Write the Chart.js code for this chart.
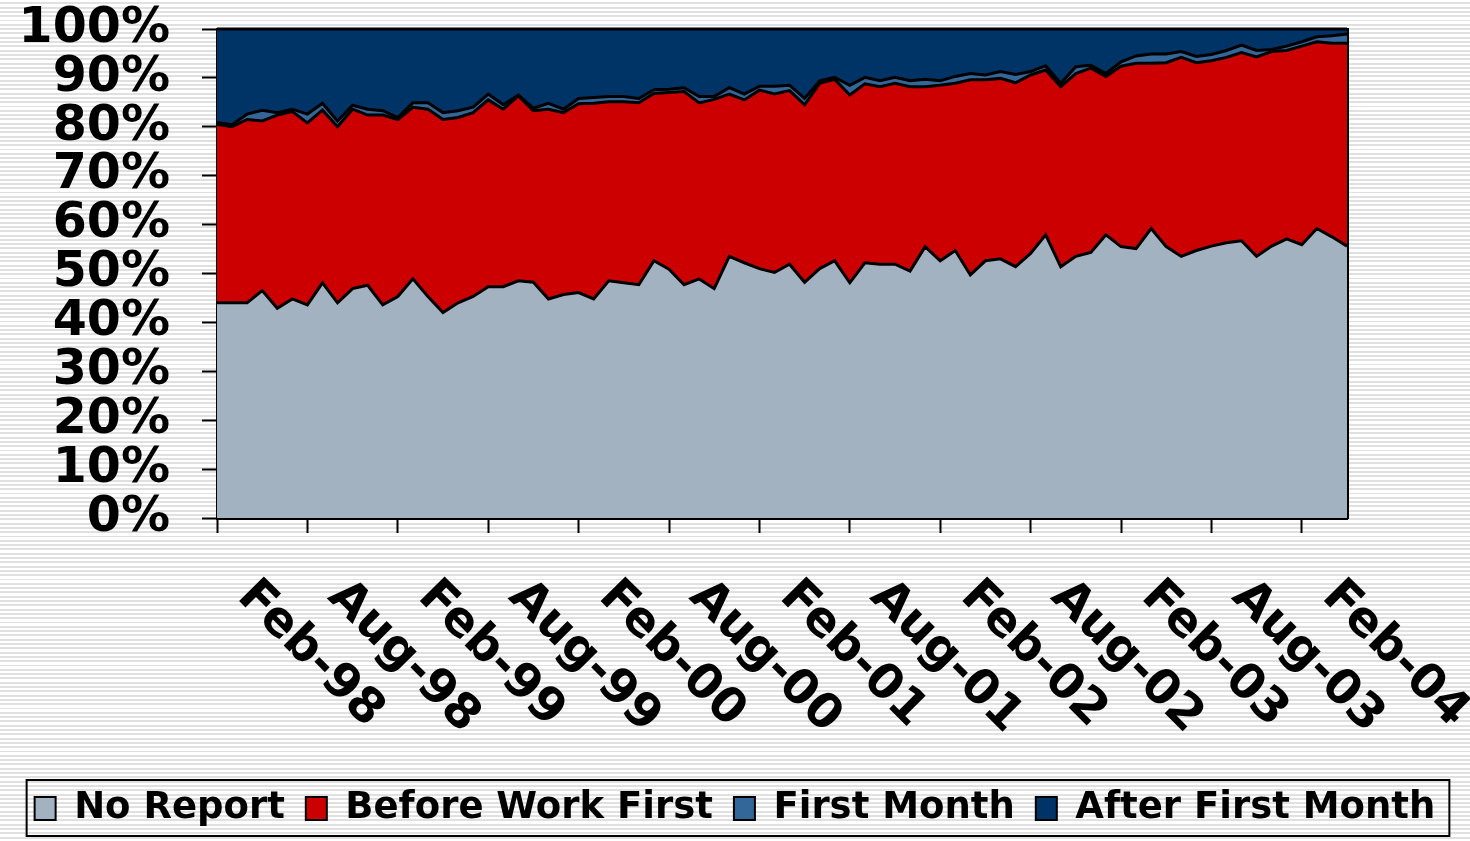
<!DOCTYPE html>
<html><head><meta charset="utf-8">
<script src="https://cdn.jsdelivr.net/npm/chart.js@4/dist/chart.umd.min.js"></script>
<style>
html,body{margin:0;padding:0;}
body{width:1470px;height:841px;overflow:hidden;background:repeating-linear-gradient(to bottom,#ffffff 0px,#ffffff 2.3px,#e0e0e0 2.3px,#e0e0e0 4.3px);}
#wrap{position:absolute;left:0;top:0;width:1470px;height:841px;}
</style></head><body>
<div id="wrap"><canvas id="c" width="1470" height="841"></canvas></div>
<script>
const categories = [
 "Feb-98","Mar-98","Apr-98","May-98","Jun-98","Jul-98","Aug-98","Sep-98","Oct-98","Nov-98","Dec-98",
 "Jan-99","Feb-99","Mar-99","Apr-99","May-99","Jun-99","Jul-99","Aug-99","Sep-99","Oct-99","Nov-99","Dec-99",
 "Jan-00","Feb-00","Mar-00","Apr-00","May-00","Jun-00","Jul-00","Aug-00","Sep-00","Oct-00","Nov-00","Dec-00",
 "Jan-01","Feb-01","Mar-01","Apr-01","May-01","Jun-01","Jul-01","Aug-01","Sep-01","Oct-01","Nov-01","Dec-01",
 "Jan-02","Feb-02","Mar-02","Apr-02","May-02","Jun-02","Jul-02","Aug-02","Sep-02","Oct-02","Nov-02","Dec-02",
 "Jan-03","Feb-03","Mar-03","Apr-03","May-03","Jun-03","Jul-03","Aug-03","Sep-03","Oct-03","Nov-03","Dec-03",
 "Jan-04","Feb-04","Mar-04","Apr-04","May-04"
];
const noReport = [
 44.0,44.0,44.0,46.5,42.9,44.8,43.6,48.1,44.0,46.9,
 47.6,43.6,45.3,48.9,45.3,42.0,44.0,45.3,47.3,47.3,
 48.5,48.2,44.8,45.7,46.1,44.8,48.5,48.1,47.7,52.6,
 50.9,47.7,48.9,46.9,53.5,52.2,51.0,50.2,51.9,48.2,
 51.0,52.6,48.1,52.2,51.9,51.9,50.5,55.5,52.6,54.7,
 49.7,52.6,53.0,51.4,54.1,57.9,51.4,53.5,54.3,57.9,
 55.5,55.1,59.2,55.5,53.5,54.7,55.6,56.3,56.7,53.5,
 55.6,57.1,55.9,59.2,57.5,55.6
];
const beforeWorkFirst = [
 36.5,36.0,37.5,34.7,39.5,38.3,37.2,35.3,36.0,36.7,
 34.8,38.8,36.2,35.1,38.3,39.5,37.9,37.6,38.2,36.3,
 37.8,35.1,38.8,37.2,38.6,40.0,36.6,37.0,37.2,34.2,
 36.1,39.5,36.0,38.7,33.2,33.3,36.5,36.5,35.5,36.3,
 37.9,37.1,38.4,36.6,36.3,37.0,37.7,32.7,35.9,34.2,
 39.9,37.0,36.9,37.6,36.5,33.7,36.8,37.4,37.7,32.4,
 36.9,37.9,33.8,37.6,40.7,38.4,37.9,37.9,38.5,40.8,
 39.8,38.5,40.6,38.2,39.6,41.5
];
const firstMonth = [
 0.4,0.4,1.1,2.2,0.5,0.5,1.8,1.4,1.2,0.8,
 1.2,0.9,0.4,0.9,1.3,1.4,1.4,1.1,1.2,0.9,
 0.2,0.5,1.2,0.7,1.1,1.2,1.1,1.1,0.9,0.8,
 0.7,0.8,1.3,0.6,1.3,1.2,0.8,1.6,1.1,1.3,
 0.5,0.4,2.0,1.3,1.2,1.2,1.2,1.5,0.9,1.4,
 1.3,1.0,1.4,1.7,0.7,0.9,0.7,1.4,0.6,0.6,
 0.9,1.5,1.9,1.8,1.2,1.3,1.3,1.4,1.5,1.3,
 0.4,0.9,0.9,1.0,1.5,1.9
];
const afterFirstMonth = [
 19.1,19.6,17.4,16.6,17.1,16.4,17.4,15.2,18.8,15.6,
 16.4,16.7,18.1,15.1,15.1,17.1,16.7,16.0,13.3,15.5,
 13.5,16.2,15.2,16.4,14.2,14.0,13.8,13.8,14.2,12.4,
 12.3,12.0,13.8,13.8,12.0,13.3,11.7,11.7,11.5,14.2,
 10.6,9.9,11.5,9.9,10.6,9.9,10.6,10.3,10.6,9.7,
 9.1,9.4,8.7,9.3,8.7,7.5,11.1,7.7,7.4,9.1,
 6.7,5.5,5.1,5.1,4.6,5.6,5.2,4.4,3.3,4.4,
 4.2,3.5,2.6,1.6,1.4,1.0
];
const seriesNames = ["No Report","Before Work First","First Month","After First Month"];
const labelEvery = 6;

const FONT = '"DejaVu Sans", Verdana, sans-serif';

const xLabelPlugin = {
  id: 'xlabels',
  afterDraw(chart) {
    const ctx = chart.ctx, xs = chart.scales.x;
    ctx.save();
    ctx.font = 'bold 48px ' + FONT;
    ctx.fillStyle = '#000';
    ctx.textAlign = 'left';
    ctx.textBaseline = 'alphabetic';
    categories.forEach((lab, i) => {
      if (i % labelEvery !== 0) return;
      const x = xs.getPixelForValue(i);
      ctx.save();
      ctx.translate(x + 19, xs.top + 80);
      ctx.rotate(Math.PI / 4);
      ctx.fillText(lab, 0, 0);
      ctx.restore();
    });
    const lg = chart.legend, hb = lg.legendHitBoxes;
    if (hb && hb.length) {
      const l = hb[0].left - 8;
      const last = hb[hb.length - 1];
      const r = last.left + last.width + 14;
      ctx.lineWidth = 2;
      ctx.strokeStyle = '#000';
      ctx.strokeRect(l, lg.top + 11, r - l, lg.height - 12);
    }
    ctx.restore();
  }
};

const mk = (label, data, color, fill) => ({
  label, data, backgroundColor: color, borderColor: '#000', borderWidth: 3,
  fill, pointRadius: 0, tension: 0, clip: 4
});

new Chart(document.getElementById('c'), {
  type: 'line',
  data: {
    labels: categories,
    datasets: [
      mk(seriesNames[0], noReport, '#A3B2C1', 'origin'),
      mk(seriesNames[1], beforeWorkFirst, '#CC0000', '-1'),
      mk(seriesNames[2], firstMonth, '#336699', '-1'),
      mk(seriesNames[3], afterFirstMonth, '#003366', '-1')
    ]
  },
  options: {
    responsive: false,
    animation: false,
    layout: { padding: { left: 0, right: 0, top: 29, bottom: 4 } },
    plugins: {
      tooltip: { enabled: false },
      legend: {
        position: 'bottom',
        labels: {
          font: { family: FONT, size: 37, weight: 'bold' },
          color: '#000',
          boxWidth: 21, boxHeight: 23, padding: 21,
          generateLabels: (chart) => Chart.defaults.plugins.legend.labels.generateLabels(chart).map(l => ({ ...l, lineWidth: 2 }))
        }
      }
    },
    scales: {
      x: {
        type: 'category',
        offset: false,
        ticks: { display: false },
        grid: {
          drawOnChartArea: false, drawTicks: true, tickLength: 15, tickWidth: 2,
          tickColor: (c) => (c.index % labelEvery === 0 ? '#000' : 'rgba(0,0,0,0)')
        },
        border: { display: true, color: '#000', width: 3 },
        afterFit: (s) => { s.height = 251; s.paddingLeft = 0; s.paddingRight = 0; }
      },
      y: {
        stacked: true, min: 0, max: 100,
        ticks: { stepSize: 10, autoSkip: false, callback: (v) => v + '%', color: '#000', padding: 32,
                 font: { family: FONT, size: 49, weight: 'bold' } },
        grid: { drawOnChartArea: false, tickLength: 15, tickWidth: 2, tickColor: '#000' },
        border: { display: true, color: '#000', width: 3 },
        afterFit: (s) => { s.width = 217; s.paddingTop = 0; s.paddingBottom = 0; }
      },
      y2: {
        position: 'right', min: 0, max: 100,
        ticks: { display: false },
        grid: { display: false },
        border: { display: true, color: '#000', width: 3 },
        afterFit: (s) => { s.width = 123; s.paddingTop = 0; s.paddingBottom = 0; }
      }
    }
  },
  plugins: [xLabelPlugin]
});
</script>
</body></html>
